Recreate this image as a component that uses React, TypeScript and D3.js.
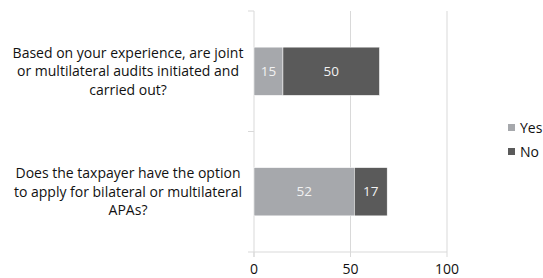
import React from "react";
import * as d3 from "d3";

const categories = [
  "Based on your experience, are joint|or multilateral audits initiated and|carried out?",
  "Does the taxpayer have the option|to apply for bilateral or multilateral|APAs?",
];
const seriesNames = ["Yes", "No"];
const yesValues = [15, 52];
const noValues = [50, 17];
const xTicks = [0, 50, 100];
const colors = ["#a6a8ac", "#5a5a5a"];

export default function App() {
  const W = 543, H = 278;
  const left = 254, right = 447, top = 11, bottom = 252;
  const x = d3.scaleLinear().domain([0, 100]).range([left, right]);
  const y = d3.scaleBand().domain(categories).range([top, bottom]).paddingInner(0.6).paddingOuter(0.3);
  const yb = d3.scaleBand().domain(categories).range([top, bottom]);
  const rows = categories.map((c, i) => ({ c, vals: [yesValues[i], noValues[i]] }));
  const font = "'Open Sans', sans-serif";
  return (
    <svg width={W} height={H} style={{ position: "absolute", left: 0, top: 0 }} fontFamily={font}>
      <rect width={W} height={H} fill="#fff" />
      {xTicks.map((t) => (
        <g key={t}>
          {t > 0 && <line x1={x(t)} x2={x(t)} y1={top} y2={bottom} stroke="#d9d9d9" />}
          <line x1={x(t)} x2={x(t)} y1={bottom} y2={bottom + 5} stroke="#d9d9d9" />
          <text x={x(t)} y={bottom + 22} textAnchor="middle" fontSize={14} fill="#111">{t}</text>
        </g>
      ))}
      <line x1={left - 6} x2={right} y1={bottom} y2={bottom} stroke="#d9d9d9" />
      <line x1={left} x2={left} y1={top} y2={bottom + 5} stroke="#d9d9d9" />
      {[top, yb(categories[1])!].map((v, i) => (
        <line key={i} x1={left - 6} x2={left} y1={v} y2={v} stroke="#d9d9d9" />
      ))}
      {rows.map((r) => {
        let acc = 0;
        return (
          <g key={r.c}>
            {r.vals.map((v, j) => {
              const x0 = x(acc);
              acc += v;
              const x1 = x(acc);
              return (
                <g key={j}>
                  <rect x={x0} y={y(r.c)} width={x1 - x0} height={y.bandwidth()} fill={colors[j]} stroke="#fff" strokeWidth={0.5} />
                  <text x={(x0 + x1) / 2} y={y(r.c)! + y.bandwidth() / 2} dy="0.35em" textAnchor="middle" fontSize={13.5} fill="#f2f2f2">{v}</text>
                </g>
              );
            })}
            {r.c.split("|").map((ln, k, arr) => (
              <text key={k} x={128} y={y(r.c)! + y.bandwidth() / 2 + (k - (arr.length - 1) / 2) * 18.5} dy="0.35em" textAnchor="middle" fontSize={14} fill="#111">{ln}</text>
            ))}
          </g>
        );
      })}
      {seriesNames.map((s, i) => (
        <g key={s} transform={`translate(508, ${128 + i * 24})`}>
          <rect x={0} y={-4} width={7} height={7} fill={colors[i]} />
          <text x={12} y={0} dy="0.35em" fontSize={14} fill="#111">{s}</text>
        </g>
      ))}
    </svg>
  );
}
